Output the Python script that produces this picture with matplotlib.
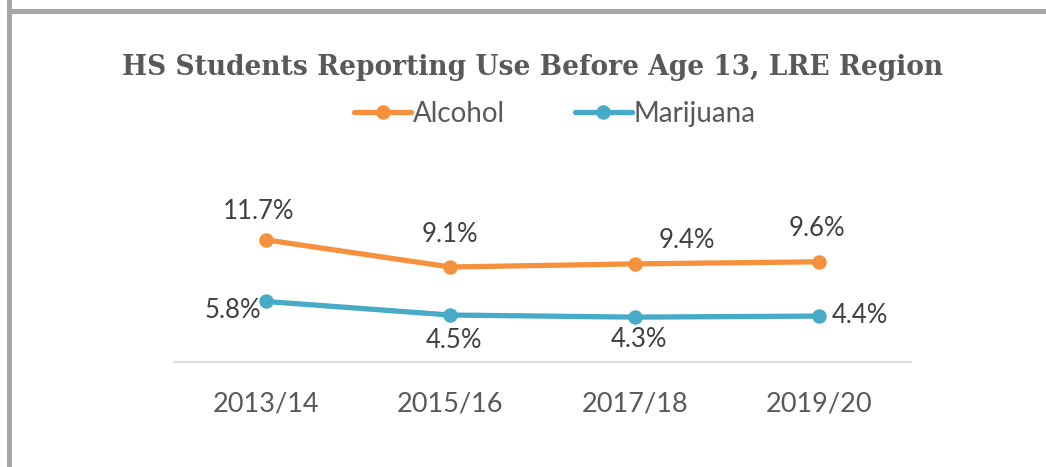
import matplotlib
matplotlib.use("Agg")
import matplotlib.pyplot as plt
from matplotlib.patches import Rectangle

# Survey years and percentages of high-school students reporting first use before age 13
years = ["2013/14", "2015/16", "2017/18", "2019/20"]
alcohol = [11.7, 9.1, 9.4, 9.6]
marijuana = [5.8, 4.5, 4.3, 4.4]
series_names = ["Alcohol", "Marijuana"]

ORANGE = "#F5903D"
BLUE = "#47AAC7"
LABEL_GRAY = "#404040"
TEXT_GRAY = "#595959"
FONT = "Lato"

W, H = 1046, 467
fig = plt.figure(figsize=(W / 100, H / 100), dpi=100)
fig.patch.set_facecolor("white")


def fx(px):
    return px / W


def fy(py):
    return 1 - py / H


# Gray frame along the top and left edges
fig.add_artist(Rectangle((fx(7), fy(467)), fx(5), 1, transform=fig.transFigure,
                         facecolor="#A6A6A6", edgecolor="none"))
fig.add_artist(Rectangle((fx(7), fy(14)), 1, 5 / H, transform=fig.transFigure,
                         facecolor="#A6A6A6", edgecolor="none"))

ax = fig.add_axes([fx(174), fy(362), (911 - 174) / W, (362 - 195) / H])
x = list(range(len(years)))

line_kw = dict(linewidth=3.8, marker="o", markersize=9.4, solid_capstyle="round")
l1, = ax.plot(x, alcohol, color=ORANGE, label=series_names[0], **line_kw)
l2, = ax.plot(x, marijuana, color=BLUE, label=series_names[1], **line_kw)

ax.set_xlim(-0.5, len(years) - 0.5)
ax.set_ylim(0, 16)
ax.set_xticks(x)
ax.set_xticklabels(years, fontfamily=FONT, fontsize=19.5, color=TEXT_GRAY)
ax.tick_params(axis="x", length=0, pad=21.5)
ax.set_yticks([])
for side in ("top", "left", "right"):
    ax.spines[side].set_visible(False)
ax.spines["bottom"].set_color("#D9D9D9")
ax.spines["bottom"].set_linewidth(1.3)

# Value labels: pixel offsets from each point and horizontal alignment
alc_offsets = [(-8, 21, "center"), (0, 25, "center"), (52, 16, "center"), (-2, 26, "center")]
mar_offsets = [(-5, -17, "right"), (4, -33, "center"), (4, -30, "center"), (13, -7, "left")]
for values, offsets in ((alcohol, alc_offsets), (marijuana, mar_offsets)):
    for xi, v, (dx, dy, ha) in zip(x, values, offsets):
        ax.annotate(f"{v:.1f}%", (xi, v), xytext=(dx, dy), textcoords="offset pixels",
                    ha=ha, va="baseline", fontfamily=FONT, fontsize=18.5,
                    color=LABEL_GRAY)

fig.text(fx(533), fy(75), "HS Students Reporting Use Before Age 13, LRE Region",
         ha="center", va="baseline", fontfamily="DejaVu Serif",
         fontweight="bold", fontsize=19.1, color=TEXT_GRAY)

fig.legend(handles=[l1, l2], loc="center", bbox_to_anchor=(fx(555), fy(114)),
           ncol=2, frameon=False, handlelength=2.05, handletextpad=0.08,
           columnspacing=2.5, borderaxespad=0, borderpad=0,
           prop={"family": FONT, "size": 20}, labelcolor=TEXT_GRAY)

fig.savefig("out.png", dpi=100, facecolor="white")
